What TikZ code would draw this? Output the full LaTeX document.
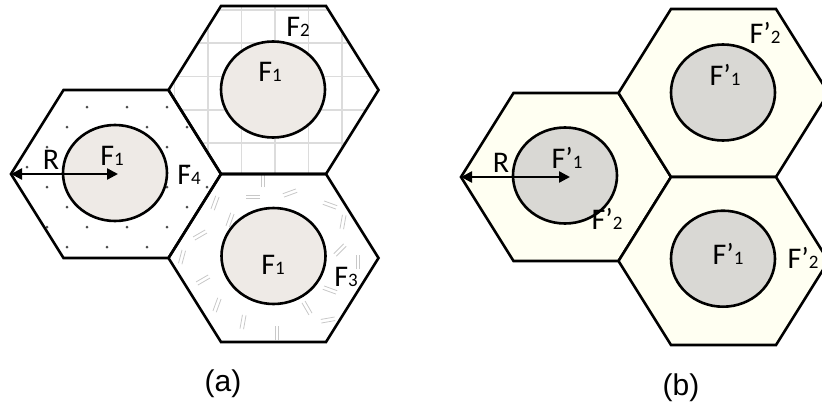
\documentclass[tikz,border=0pt]{standalone}
\usepackage{fontspec}
\setmainfont{Carlito}
\newfontfamily\capfont{Liberation Sans}
\usetikzlibrary{shapes.geometric, arrows.meta, calc}

\definecolor{coreA}{HTML}{EEEAE6}
\definecolor{coreB}{HTML}{D9D8D4}
\definecolor{cream}{HTML}{FFFFF2}
\definecolor{gridgray}{HTML}{DCDCDC}
\definecolor{markgray}{HTML}{C8C8C8}

\newcommand{\hexpts}{(-105,0) -- (-52.5,-84) -- (52.5,-84) -- (105,0) -- (52.5,84) -- (-52.5,84) -- cycle}
\newcommand{\sub}[1]{{\fontsize{19}{19}\selectfont #1}}

\begin{document}
\begin{tikzpicture}[
    x=1pt, y=-1pt,
    font=\fontsize{30}{32}\selectfont,
    cell/.style={draw=black, line width=2.6pt, line join=miter},
    core/.style={ellipse, draw=black, line width=2.6pt, minimum width=104pt, minimum height=96pt, inner sep=0pt},
    lbl/.style={inner sep=0pt},
    caption/.style={inner sep=0pt, font=\capfont\fontsize{30}{32}\selectfont},
    radius arrow/.style={line width=2.4pt, {Triangle[length=11pt,width=11pt]}-{Triangle[length=11pt,width=11pt]}},
    dot/.style={fill=black!70},
    eqmark/.style={draw=markgray, line width=0.8pt}
]
\useasboundingbox (0,0) rectangle (822,405);

% cell centres
\coordinate (a1) at (116,174);
\coordinate (a2) at (273.5,90);
\coordinate (a3) at (273.5,258);
\coordinate (b1) at (566,177);
\coordinate (b2) at (723.5,93);
\coordinate (b3) at (723.5,261);

% (a) textures
\begin{scope}[shift={(a1)}]
  \clip \hexpts;
  \foreach \r in {0,...,7}{
    \pgfmathsetmacro{\dx}{mod(\r,2)==0 ? -109 : -89}
    \foreach \c in {0,...,5}
      \fill[dot] (\dx+40*\c, -67+20*\r) circle (1.5);
  }
\end{scope}
\begin{scope}[shift={(a2)}]
  \clip \hexpts;
  \foreach \gx in {-99,-65.5,-32,1.5,35,68.5}
    \draw[gridgray, line width=1.3pt] (\gx,-90) -- (\gx,90);
  \foreach \gy in {-80,-47,-13.5,20,53}
    \draw[gridgray, line width=1.3pt] (-110,\gy) -- (110,\gy);
\end{scope}
\begin{scope}
  \clip[shift={(a3)}] \hexpts;
  \foreach \mx/\my/\ma in {263/180/90, 215/203/70, 253/197/0, 290/193/20, 330/205/-20,
      343/222/80, 200/235/30, 230/220/70, 358/262/90, 340/250/45, 182/257/75,
      203/280/30, 330/290/-20, 217/305/70, 243/322/80, 277/333/90, 307/308/-60,
      328/320/10, 190/215/60}
    \draw[eqmark, shift={(\mx,\my)}, rotate=\ma]
      (-7,-1.8) -- (7,-1.8) (-7,1.8) -- (7,1.8);
\end{scope}

% (a) cells
\draw[cell, shift={(a1)}] \hexpts;
\draw[cell, shift={(a2)}] \hexpts;
\draw[cell, shift={(a3)}] \hexpts;

\node[core, fill=coreA] (c1) at (115,173) {};
\node[core, fill=coreA] (c2) at (273,89.5) {};
\node[core, fill=coreA] (c3) at (273.5,256) {};

\coordinate (a1w) at ($(a1)+(-105,0)$);
\coordinate (a1e) at (118,174);
\draw[radius arrow] (a1w) -- (a1e);

\node[lbl] (ra) at (51,160) {R};
\node[lbl] (f1a) at (112,156) {F\sub{1}};
\node[lbl] (f4a) at (189,175) {F\sub{4}};
\node[lbl] (f1b) at (270,72) {F\sub{1}};
\node[lbl] (f2a) at (298,27) {F\sub{2}};
\node[lbl] (f1c) at (273,265) {F\sub{1}};
\node[lbl] (f3a) at (346,277) {F\sub{3}};
\node[caption] (capa) at (223,384) {(a)};

% (b) cells
\draw[cell, fill=cream, shift={(b1)}] \hexpts;
\draw[cell, fill=cream, shift={(b2)}] \hexpts;
\draw[cell, fill=cream, shift={(b3)}] \hexpts;

\node[core, fill=coreB] (d1) at (565,175.5) {};
\node[core, fill=coreB] (d2) at (723,92.5) {};
\node[core, fill=coreB] (d3) at (723,258.7) {};

\coordinate (b1w) at ($(b1)+(-105,0)$);
\coordinate (b1e) at (570,177);
\draw[radius arrow] (b1w) -- (b1e);

\node[lbl] (rb) at (501,163) {R};
\node[lbl] (g1a) at (567,158) {F’\sub{1}};
\node[lbl] (g2a) at (607,219) {F’\sub{2}};
\node[lbl] (g2b) at (765,33) {F’\sub{2}};
\node[lbl] (g1b) at (725,75) {F’\sub{1}};
\node[lbl] (g1c) at (728,254) {F’\sub{1}};
\node[lbl] (g2c) at (803,258) {F’\sub{2}};
\node[caption] (capb) at (681,388) {(b)};

\end{tikzpicture}
\end{document}
